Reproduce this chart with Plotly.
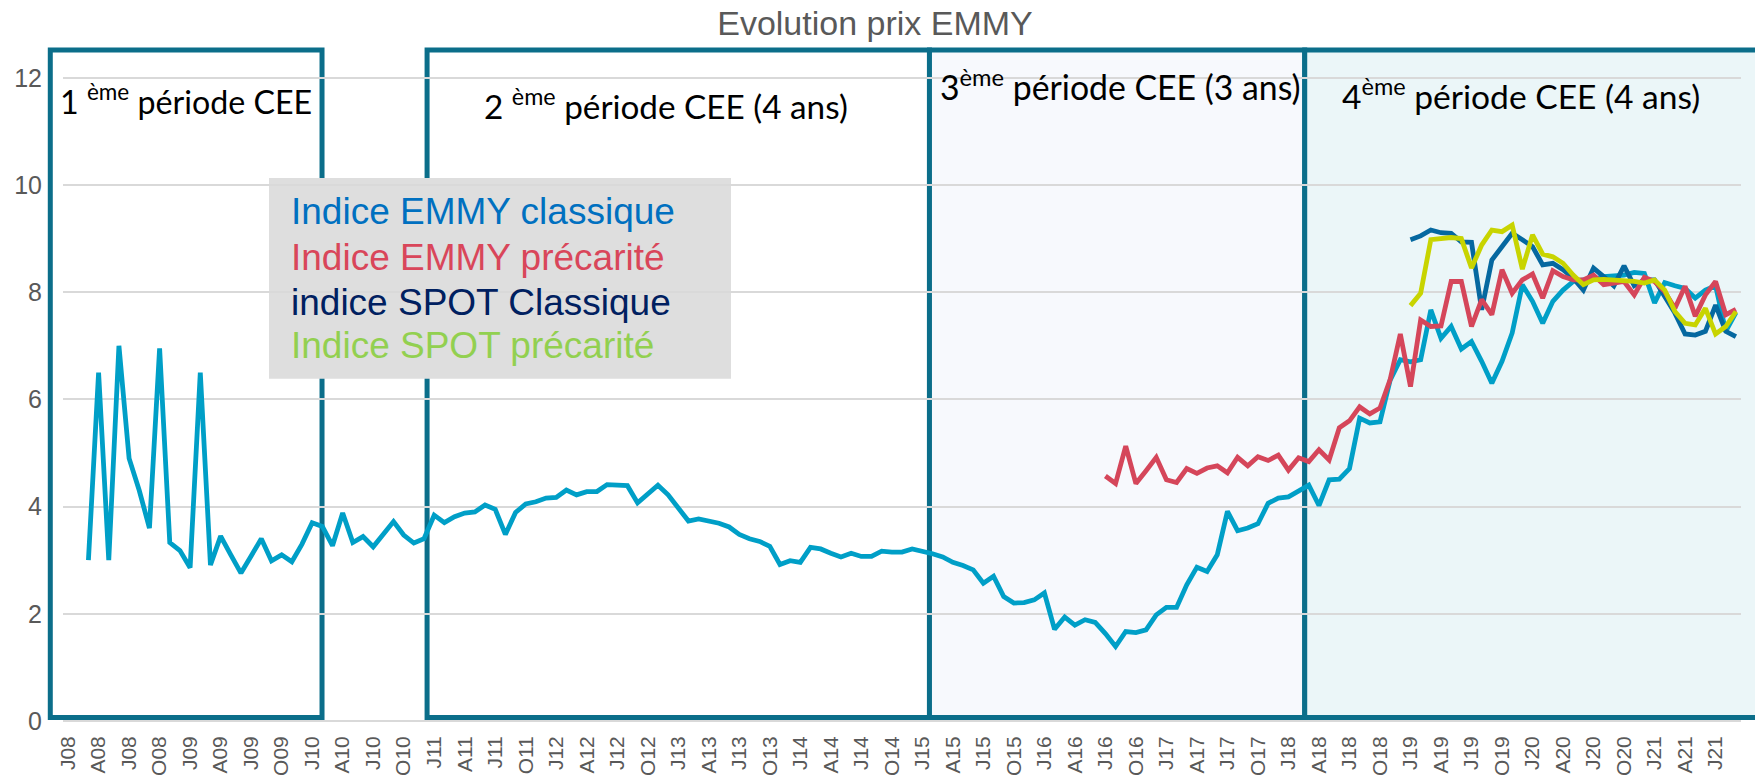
import plotly.graph_objects as go

# ---------------- data ----------------
# monthly index: 0 = Jan 2008 ... 164 = Sep 2021
N_MONTHS = 165
tick_labels = ["J08", "A08", "J08", "O08", "J09", "A09", "J09", "O09",
               "J10", "A10", "J10", "O10", "J11", "A11", "J11", "O11",
               "J12", "A12", "J12", "O12", "J13", "A13", "J13", "O13",
               "J14", "A14", "J14", "O14", "J15", "A15", "J15", "O15",
               "J16", "A16", "J16", "O16", "J17", "A17", "J17", "O17",
               "J18", "A18", "J18", "O18", "J19", "A19", "J19", "O19",
               "J20", "A20", "J20", "O20", "J21", "A21", "J21"]

emmy_classique_start = 2
emmy_classique = [
    3.00, 6.50, 3.00, 7.00, 4.90, 4.30, 3.60, 6.95, 3.33, 3.18, 2.86, 6.50,
    2.91, 3.45, 3.10, 2.76, 3.08, 3.40, 2.99, 3.10, 2.97, 3.30, 3.70, 3.63,
    3.27, 3.88, 3.33, 3.44, 3.25, 3.48, 3.72, 3.47, 3.32, 3.40, 3.84, 3.70,
    3.81, 3.88, 3.90, 4.03, 3.95, 3.48, 3.89, 4.05, 4.09, 4.16, 4.17, 4.31,
    4.22, 4.28, 4.28, 4.41, 4.40, 4.39, 4.07, 4.25, 4.40, 4.22, 3.98, 3.73,
    3.77, 3.73, 3.69, 3.62, 3.48, 3.40, 3.35, 3.26, 2.92, 2.99, 2.96, 3.24,
    3.21, 3.13, 3.06, 3.13, 3.07, 3.07, 3.17, 3.15, 3.15, 3.21, 3.17, 3.12,
    3.06, 2.96, 2.90, 2.82, 2.57, 2.70, 2.32, 2.20, 2.21, 2.26, 2.39, 1.71,
    1.94, 1.79, 1.89, 1.84, 1.63, 1.39, 1.67, 1.65, 1.70, 1.98, 2.12, 2.12,
    2.54, 2.87, 2.79, 3.10, 3.91, 3.55, 3.60, 3.68, 4.06, 4.16, 4.18, 4.30,
    4.40, 4.02, 4.50, 4.51, 4.71, 5.65, 5.56, 5.58, 6.36, 6.74, 6.70, 6.74,
    7.67, 7.14, 7.36, 6.94, 7.08, 6.71, 6.30, 6.71, 7.24, 8.14, 7.83, 7.42,
    7.83, 8.04, 8.20, 8.23, 8.24, 8.29, 8.30, 8.32, 8.37, 8.35, 7.80, 8.18,
    8.12, 8.07, 7.89, 8.04, 8.12, 7.27, 7.62]

emmy_precarite_start = 102
emmy_precarite = [
    4.57, 4.43, 5.13, 4.43, 4.67, 4.92, 4.50, 4.45, 4.71, 4.62, 4.72, 4.76,
    4.63, 4.92, 4.76, 4.93, 4.86, 4.96, 4.68, 4.91, 4.84, 5.06, 4.87, 5.47,
    5.60, 5.86, 5.73, 5.84, 6.37, 7.22, 6.24, 7.48, 7.36, 7.37, 8.20, 8.20,
    7.36, 7.86, 7.58, 8.42, 7.98, 8.23, 8.34, 7.89, 8.40, 8.29, 8.23, 8.23,
    8.32, 8.14, 8.17, 8.20, 7.95, 8.28, 8.20, 8.01, 7.70, 8.11, 7.55, 7.95,
    8.20, 7.58, 7.68]

spot_classique_start = 132
spot_classique = [
    8.98, 9.05, 9.16, 9.11, 9.10, 8.94, 8.93, 7.67, 8.60, 8.85, 9.10, 8.98,
    8.85, 8.51, 8.54, 8.42, 8.26, 8.04, 8.45, 8.29, 8.12, 8.49, 8.12, 8.23,
    8.23, 7.92, 7.61, 7.22, 7.20, 7.27, 7.76, 7.27, 7.17]

spot_precarite_start = 132
spot_precarite = [
    7.75, 7.98, 8.98, 8.99, 9.02, 9.00, 8.45, 8.88, 9.16, 9.13, 9.25, 8.43,
    9.07, 8.71, 8.66, 8.54, 8.32, 8.14, 8.23, 8.24, 8.23, 8.23, 8.20, 8.17,
    8.23, 8.04, 7.64, 7.42, 7.39, 7.70, 7.22, 7.36, 7.64]

series_names = ["Indice EMMY classique", "Indice EMMY précarité",
                "indice SPOT Classique", "Indice SPOT précarité"]

period_labels = ["1 <sup>ème</sup> période CEE",
                 "2 <sup>ème</sup> période CEE (4 ans)",
                 "3<sup>ème</sup> période CEE (3 ans)",
                 "4<sup>ème</sup> période CEE (4 ans)"]
# period frames in month index units
period_start = [-1.75, 35.3, 84.7, 121.6]
period_end = [24.97, 84.7, 121.6, 168.0]

# ---------------- layout constants ----------------
W, H = 1755, 780
ML, MR, MT, MB = 63, 14, 51, 58.5
PW = W - ML - MR
PH = H - MT - MB

line_colors = ["#009FC7", "#D5465A", "#0568A0", "#C8D400"]
text_colors = ["#0070C0", "#D9465A", "#002060", "#92D050"]
frame_color = "#0B6E8A"
period_fill = ["rgba(0,0,0,0)", "rgba(0,0,0,0)", "#F7F9FD", "#EBF6F8"]


def px_x(p):
    return (p - ML) / PW


def px_y(p):
    return (H - MB - p) / PH


def idx_paper(i):
    return (i + 0.5) / N_MONTHS


fig = go.Figure()

all_series = [(emmy_classique_start, emmy_classique),
              (emmy_precarite_start, emmy_precarite),
              (spot_classique_start, spot_classique),
              (spot_precarite_start, spot_precarite)]
draw_order = [0, 2, 1, 3]
for k in draw_order:
    start, vals = all_series[k]
    fig.add_trace(go.Scatter(
        x=list(range(start, start + len(vals))), y=vals, mode="lines",
        name=series_names[k], showlegend=False,
        line=dict(color=line_colors[k], width=4.8),
    ))

shapes = []
for i in range(4):
    shapes.append(dict(
        type="rect", xref="paper", yref="paper",
        x0=idx_paper(period_start[i]), x1=idx_paper(period_end[i]),
        y0=px_y(718), y1=px_y(50),
        line=dict(color=frame_color, width=5),
        fillcolor=period_fill[i], layer="below",
    ))
# grey legend panel
shapes.append(dict(
    type="rect", xref="paper", yref="paper",
    x0=px_x(269), x1=px_x(731), y0=px_y(379), y1=px_y(178),
    line=dict(width=0), fillcolor="#DEDEDE", layer="below",
))

annotations = []
period_pos = [(58, 99.5), (482, 104.5), (938, 85), (1340, 94.5)]
period_size = [32.2, 33.3, 33.8, 33.6]
for i, lab in enumerate(period_labels):
    px, py = period_pos[i]
    annotations.append(dict(
        text=lab, xref="paper", yref="paper", x=px_x(px), y=px_y(py),
        xanchor="left", yanchor="middle", showarrow=False,
        font=dict(family="Lato", size=period_size[i], color="#000000"),
    ))

legend_y = [212, 257.5, 302.5, 345.5]
for k in range(4):
    annotations.append(dict(
        text=series_names[k], xref="paper", yref="paper",
        x=px_x(289), y=px_y(legend_y[k]), xanchor="left", yanchor="middle",
        showarrow=False,
        font=dict(family="Liberation Sans", size=37, color=text_colors[k]),
    ))

fig.update_layout(
    width=W, height=H,
    margin=dict(l=ML, r=MR, t=MT, b=MB),
    paper_bgcolor="white", plot_bgcolor="rgba(0,0,0,0)",
    title=dict(text="Evolution prix EMMY", x=875 / W, xanchor="center",
               y=1 - 23.5 / H, yanchor="middle", yref="container",
               font=dict(family="Liberation Sans", size=34, color="#595959")),
    shapes=shapes, annotations=annotations,
    xaxis=dict(range=[-0.5, N_MONTHS - 0.5],
               tickvals=list(range(0, 3 * len(tick_labels), 3)),
               ticktext=tick_labels, tickangle=-90,
               tickfont=dict(family="Liberation Sans", size=21, color="#595959"),
               showgrid=False, zeroline=False, showline=False,
               ticks="", ticklabelstandoff=10, automargin=False),
    yaxis=dict(range=[0, 12.5], dtick=2, tick0=0,
               tickfont=dict(family="Liberation Sans", size=25, color="#595959"),
               showgrid=True, gridcolor="#D9D9D9", gridwidth=1.5,
               zeroline=True, zerolinecolor="#D9D9D9", zerolinewidth=1.5,
               showline=False, ticks="", ticklabelstandoff=20,
               automargin=False),
)

fig.write_html("out.html",
               config={"displayModeBar": False},
               post_script="document.body.style.margin='0px';"
                           "document.body.style.overflow='hidden';")
